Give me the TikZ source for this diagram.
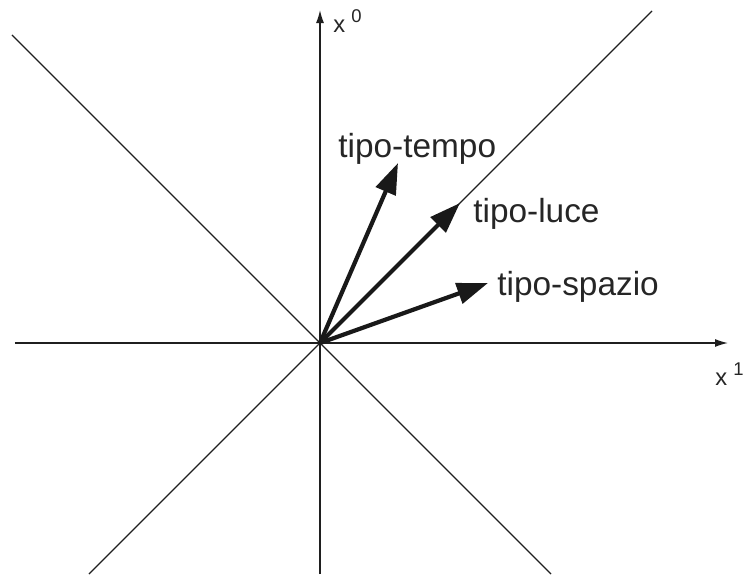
\documentclass[tikz,border=0pt]{standalone}
\usepackage{fontspec}
\setmainfont{Liberation Sans}
\usepackage{xcolor}
\usepackage{tikz}
\usetikzlibrary{arrows.meta,positioning,calc}

\newcommand{\axsup}[1]{\kern3.5pt\raisebox{5.2pt}{\fontsize{10.5}{12}\selectfont #1}}

\begin{document}
\begin{tikzpicture}[
  x=1cm,
  y=1cm,
  axis/.style={-{Latex[length=2.6mm,width=1.6mm]}, line width=0.75pt, draw=black!88},
  cone/.style={line width=0.75pt, draw=black!88},
  vec/.style={-{Triangle[length=6.2mm,width=4.2mm]}, line width=2.4pt, draw=black!90},
  lbl/.style={font=\fontsize{19}{22}\selectfont, text=black!85, inner sep=0pt, anchor=base west},
  axlbl/.style={font=\fontsize{13.5}{16}\selectfont, text=black!85, inner sep=0pt, anchor=base west}
]

\useasboundingbox (-6.40,-4.62) rectangle (8.48,6.86);

\coordinate (O) at (0,0);
\coordinate (xl) at (-6.10,0);
\coordinate (xr) at (8.16,0);
\coordinate (yb) at (0,-4.62);
\coordinate (yt) at (0,6.66);
\coordinate (tl) at (-6.16,6.16);
\coordinate (br) at (4.62,-4.62);
\coordinate (bl) at (-4.62,-4.62);
\coordinate (tr) at (6.64,6.64);
\coordinate (tempo) at (1.56,3.60);
\coordinate (luce) at (2.80,2.80);
\coordinate (spazio) at (3.36,1.20);

% assi e cono di luce
\draw[axis] (xl) -- (xr);
\draw[axis] (yb) -- (yt);
\draw[cone] (tl) -- (br);
\draw[cone] (bl) -- (tr);

% vettori
\draw[vec] (O) -- (tempo);
\draw[vec] (O) -- (luce);
\draw[vec] (O) -- (spazio);

\node[axlbl] (x0) at (0.26,6.22) {x\axsup{0}};
\node[axlbl] (x1) at (7.90,-0.84) {x\axsup{1}};
\node[lbl] (ltempo) at (0.36,3.72) {tipo-tempo};
\node[lbl] (lluce) at (3.06,2.42) {tipo-luce};
\node[lbl] (lspazio) at (3.54,0.96) {tipo-spazio};

\end{tikzpicture}
\end{document}
